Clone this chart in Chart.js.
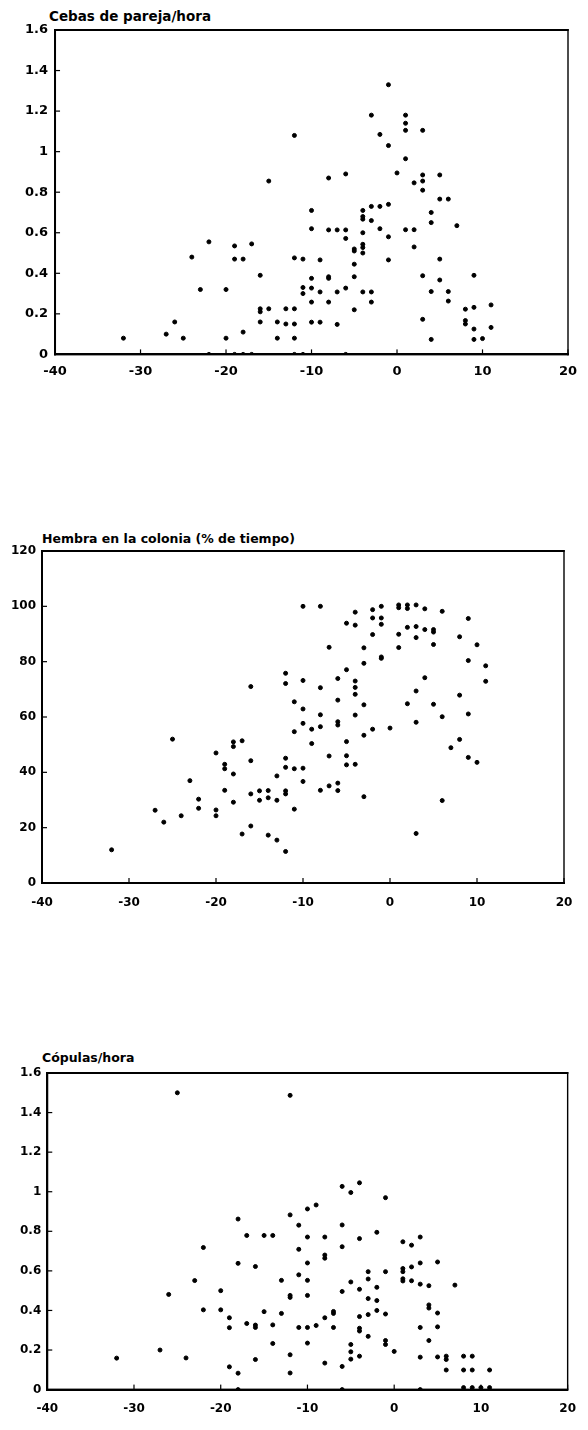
<!DOCTYPE html>
<html><head><meta charset="utf-8">
<script src="https://cdn.jsdelivr.net/npm/chart.js@4.4.0/dist/chart.umd.min.js"></script>
<style>
html,body{margin:0;padding:0;background:#fff;}
body{width:588px;height:1430px;position:relative;overflow:hidden;}
canvas{position:absolute;left:0;}
.title{position:absolute;font-family:"DejaVu Sans";font-weight:bold;color:#000;white-space:nowrap;line-height:1;}
</style></head><body>
<div class="title" style="left:49px;top:9.6px;font-size:13.5px">Cebas de pareja/hora</div>
<div class="title" style="left:42px;top:533.4px;font-size:12.5px">Hembra en la colonia (% de tiempo)</div>
<div class="title" style="left:42px;top:1052.4px;font-size:12.5px">Cópulas/hora</div>
<canvas id="c1" width="588" height="400" style="top:0px"></canvas>
<canvas id="c2" width="588" height="400" style="top:520px"></canvas>
<canvas id="c3" width="588" height="390" style="top:1040px"></canvas>
<script>
// ---- tick values / labels ----
const xTickVals = [-40, -30, -20, -10, 0, 10, 20];
const xTickLabels = ['-40', '-30', '-20', '-10', '0', '10', '20'];
const rateTickVals = [0, 0.2, 0.4, 0.6, 0.8, 1, 1.2, 1.4, 1.6];
const rateTickLabels = ['0', '0.2', '0.4', '0.6', '0.8', '1', '1.2', '1.4', '1.6'];
const pctTickVals = [0, 20, 40, 60, 80, 100, 120];
const pctTickLabels = ['0', '20', '40', '60', '80', '100', '120'];

// ---- Cebas de pareja/hora ----
const cebasX = [-32,-27,-26,-25,-24,-23,-22,-22,-20,-20,-19,-19,-19,-18,-18,-18,-17,-17,-16,-16,-16,-16,-15,-15,-14,-14,-13,-13,-12,-12,-12,-12,-11,-12,-11,-11,-11,-12,
  -1,-3,1,1,1,3,-2,-1,1,-8,-6,0,3,3,3,2,5,5,6,-10,-10,-8,-7,-6,-6,-4,-4,-4,-3,-2,-1,-3,-2,-4,-1,-4,-4,-4,-5,-5,-5,-5,-5,
  1,2,2,-1,4,4,7,5,-9,-10,-8,-8,-10,-10,-9,-8,-7,-6,-4,-3,-3,-10,-9,-7,-6,3,5,4,6,6,3,4,9,8,8,8,9,11,9,9,10,11];
const cebasY = [0.08,0.10,0.16,0.08,0.48,0.32,0.555,0,0.32,0.08,0,0.535,0.47,0.11,0.47,0,0,0.545,0.39,0.225,0.21,0.16,0.225,0.855,0.16,0.08,0.225,0.15,0.225,0.15,0.08,0,0,0.476,0.47,0.33,0.30,1.08,
  1.33,1.18,1.18,1.14,1.105,1.105,1.085,1.03,0.965,0.87,0.89,0.895,0.885,0.855,0.81,0.846,0.885,0.766,0.766,0.71,0.62,0.614,0.614,0.614,0.572,0.71,0.68,0.667,0.73,0.73,0.74,0.66,0.62,0.60,0.58,0.543,0.527,0.50,0.52,0.51,0.445,0.383,0.22,
  0.615,0.615,0.53,0.466,0.70,0.65,0.635,0.47,0.466,0.375,0.383,0.375,0.327,0.258,0.308,0.258,0.308,0.327,0.308,0.308,0.258,0.159,0.159,0.148,0,0.388,0.367,0.31,0.31,0.263,0.173,0.074,0.39,0.223,0.167,0.15,0.232,0.244,0.125,0.074,0.078,0.133];

// ---- Hembra en la colonia (% de tiempo) ----
const hembraX = [-16,-12,-12,-11,-32,-27,-26,-25,-24,-23,-22,-22,-20,-20,-20,-19,-19,-19,-18,-18,-18,-18,-17,-17,-16,-16,-16,-15,-15,-14,-14,-14,-13,-13,-13,-12,-12,-12,-12,-12,-11,-11,-11,
  -10,-10,-10,-9,-9,-8,-8,-7,-7,-6,-6,-6,-6,-5,-5,-5,-4,-3,-3,-2,0,3,3,6,7,8,9,10,
  -10,-8,-4,-2,-1,1,1,2,2,3,4,6,9,-5,-4,-2,-1,-1,-7,-3,-2,1,1,2,3,3,4,5,5,5,8,10,
  -3,-1,-1,-5,-10,-8,-6,-4,-4,-4,4,11,11,9,3,8,-10,-8,-6,-4,-3,2,5,9,6];
const hembraY = [71,75.8,72.1,65.5,12,26.3,22,52,24.3,37,30.3,27,47,26.4,24.3,42.9,41.3,33.5,51,49.3,39.4,29.2,51.4,17.7,44.2,32.2,20.6,33.3,29.9,33.4,30.8,17.3,38.7,29.9,15.5,45.1,41.8,33.3,32.2,11.4,54.7,41.3,26.7,
  57.7,41.5,36.7,55.6,50.4,56.5,33.5,45.9,35.1,58.3,57.1,36.1,33.4,51.1,46,42.7,42.9,53.4,31.2,55.6,56,58.1,17.9,29.8,48.9,51.9,45.4,43.6,
  100,100,97.9,98.8,100,100.5,99.5,100.5,99.2,100.5,99.1,98.2,95.6,93.9,93.2,95.8,95.8,93.5,85.2,85,89.8,89.9,85.1,92.4,92.7,88.7,91.6,91.6,90.7,86.2,89,86.1,
  79.4,81.7,81.2,77.1,73.2,70.6,73.9,73,70.7,68.2,74.2,78.5,72.9,80.4,69.4,67.9,62.9,60.8,66.1,60.7,64.4,64.8,64.6,61.1,60.1];

// ---- Cópulas/hora ----
const copulasX = [-25,-12,-18,-17,-15,-14,-12,-11,-32,-27,-26,-24,-23,-22,-22,-20,-20,-19,-19,-19,-18,-18,-18,-17,-16,-16,-16,-16,-15,-14,-14,-13,-13,-12,-12,-12,-12,-11,-11,-11,
  -10,-9,-10,-8,-6,-5,-4,-1,-6,-4,-2,1,3,2,-6,-8,-8,-10,3,5,-10,-5,-3,-3,-1,1,1,1,1,2,2,3,4,7,
  -10,-6,-4,-2,-3,-2,-2,-3,-1,-4,-7,-7,-8,4,4,5,-10,-9,-7,-4,-4,-3,3,5,-10,-5,-1,-1,4,
  -5,-5,-4,0,3,5,6,6,8,9,-8,-6,6,8,9,11,-6,3,8,9,10,11];
const copulasY = [1.50,1.487,0.862,0.779,0.779,0.779,0.883,0.831,0.159,0.20,0.481,0.16,0.551,0.718,0.403,0.50,0.403,0.363,0.313,0.115,0.638,0.083,0,0.334,0.622,0.326,0.314,0.152,0.394,0.327,0.233,0.552,0.385,0.476,0.466,0.176,0.084,0.709,0.58,0.314,
  0.913,0.933,0.771,0.771,1.027,0.996,1.045,0.97,0.832,0.763,0.795,0.747,0.771,0.73,0.722,0.68,0.664,0.64,0.64,0.645,0.552,0.544,0.596,0.559,0.596,0.612,0.596,0.56,0.549,0.62,0.55,0.533,0.525,0.528,
  0.476,0.496,0.507,0.517,0.46,0.45,0.40,0.379,0.382,0.369,0.395,0.385,0.363,0.428,0.412,0.387,0.314,0.324,0.314,0.31,0.296,0.269,0.314,0.317,0.235,0.228,0.248,0.228,0.248,
  0.191,0.154,0.169,0.193,0.164,0.165,0.169,0.152,0.169,0.169,0.134,0.117,0.099,0.099,0.099,0.099,0,0,0.01,0.01,0.01,0.01];

function labelFor(vals, labels, v) {
  for (let i = 0; i < vals.length; i++) if (Math.abs(vals[i] - v) < 1e-9) return labels[i];
  return '';
}

// frame box + inward tick marks, positioned from the chart's own scales
function makeFramePlugin(yVals, yMax) {
  return {
    id: 'frameBox',
    afterDraw(chart) {
      const ctx = chart.ctx;
      const sx = chart.scales.x, sy = chart.scales.y;
      const L = sx.getPixelForValue(-40), R = sx.getPixelForValue(20);
      const B = sy.getPixelForValue(0), T = sy.getPixelForValue(yMax);
      ctx.save();
      ctx.fillStyle = '#000';
      xTickVals.forEach(v => { const px = sx.getPixelForValue(v); ctx.fillRect(px - 0.6, B - 5, 1.2, 5); });
      yVals.forEach(v => { const py = sy.getPixelForValue(v); ctx.fillRect(L, py - 0.6, 5, 1.2); });
      ctx.fillRect(L - 1, T - 1, R - L + 1.7, 2);
      ctx.fillRect(L - 1, B - 1, R - L + 1.7, 2);
      ctx.fillRect(L - 1, T - 1, 2, B - T + 2);
      ctx.fillRect(R - 0.7, T - 1, 1.4, B - T + 2);
      ctx.restore();
    }
  };
}

// g.fit: fix axis sizes with afterFit; g.fixedTicks: set tick list with afterBuildTicks
function makeChart(id, xs, ys, yVals, yLabels, yMax, yStep, g) {
  const font = {family: 'DejaVu Sans', weight: 'bold', size: g.fs};
  const xScale = {
    min: -40, max: 20,
    ticks: {stepSize: 10, callback: v => labelFor(xTickVals, xTickLabels, v), font: font, color: '#000', padding: g.xp, maxRotation: 0, autoSkip: false},
    grid: {display: true, drawOnChartArea: false, drawTicks: false, color: 'rgba(0,0,0,0)'},
    border: {display: true, color: '#000', width: 2}
  };
  const yScale = {
    min: 0, max: yMax,
    ticks: {stepSize: yStep, callback: v => labelFor(yVals, yLabels, v), font: font, color: '#000', padding: g.yp, autoSkip: false},
    grid: {display: true, drawOnChartArea: false, drawTicks: false, color: 'rgba(0,0,0,0)'},
    border: {display: true, color: '#000', width: 2}
  };
  if (g.fit) {
    xScale.afterFit = s => { s.height = g.h - g.bottom; };
    yScale.afterFit = s => { s.width = g.left; };
  }
  if (g.fixedTicks) {
    xScale.afterBuildTicks = s => { s.ticks = xTickVals.map(v => ({value: v})); };
    yScale.afterBuildTicks = s => { s.ticks = yVals.map(v => ({value: v})); };
  }
  new Chart(document.getElementById(id), {
    type: 'scatter',
    data: {datasets: [{
      data: xs.map((x, i) => ({x: x, y: ys[i]})),
      pointRadius: 2,
      pointBackgroundColor: '#000',
      pointBorderColor: '#000'
    }]},
    options: {
      responsive: false, animation: false,
      layout: {padding: g.pad},
      plugins: {legend: {display: false}},
      scales: {x: xScale, y: yScale}
    },
    plugins: [makeFramePlugin(yVals, yMax)]
  });
}

makeChart('c1', cebasX, cebasY, rateTickVals, rateTickLabels, 1.6, 0.2,
  {fs: 13, xp: 9, yp: 7, fit: false, fixedTicks: false,
   pad: {top: 30, right: 20, left: 18, bottom: 12}});
makeChart('c2', hembraX, hembraY, pctTickVals, pctTickLabels, 120, 20,
  {fs: 12, xp: 12.5, yp: 6, fit: true, fixedTicks: false, left: 42, bottom: 363, h: 400,
   pad: {top: 31, right: 24, left: 0, bottom: 0}});
makeChart('c3', copulasX, copulasY, rateTickVals, rateTickLabels, 1.6, 0.2,
  {fs: 12, xp: 12, yp: 6, fit: false, fixedTicks: true,
   pad: {top: 33, right: 14, left: 14, bottom: 2}});
</script>
</body></html>
